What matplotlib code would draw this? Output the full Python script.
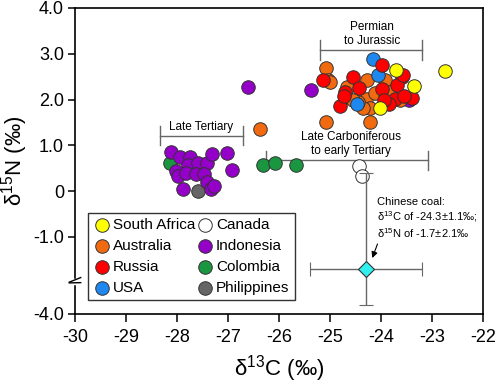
import numpy as np
import matplotlib
matplotlib.use("Agg")
import matplotlib.pyplot as plt

plt.rcParams['font.family'] = ['Liberation Sans', 'DejaVu Sans']
plt.rcParams['mathtext.default'] = 'regular'

# ---- data ----
sa_x = [-23.70, -23.35, -22.75, -24.02]
sa_y = [2.65, 2.30, 2.62, 1.82]

au_x = [-25.07, -25.03, -25.00, -25.07, -24.67, -24.69, -24.28, -24.29, -24.22,
        -24.35, -24.22, -23.92, -23.82, -23.63, -24.12, -24.45, -26.37, -24.55]
au_y = [2.68, 2.43, 2.38, 1.50, 2.28, 2.06, 2.43, 2.02, 1.81,
        1.81, 1.52, 2.43, 2.17, 1.99, 2.14, 1.95, 1.35, 2.00]

ru_x = [-25.13, -24.54, -24.71, -24.43, -24.80, -23.99, -23.59, -23.69, -23.99,
        -23.73, -23.84, -23.40, -23.56, -23.95, -23.55, -24.72]
ru_y = [2.43, 2.50, 2.17, 2.25, 1.86, 2.76, 2.50, 2.32, 2.22,
        2.01, 1.90, 2.04, 2.54, 1.98, 2.08, 2.08]

us_x = [-24.16, -24.05, -24.48]
us_y = [2.88, 2.54, 1.90]

ca_x = [-24.44, -24.38]
ca_y = [0.55, 0.34]

id_x = [-28.12, -27.94, -27.75, -27.78, -27.58, -27.42, -27.32, -27.01, -26.92,
        -28.01, -27.99, -27.82, -27.63, -27.47, -27.42, -27.88, -27.34, -27.27,
        -26.60, -25.38, -23.46]
id_y = [0.86, 0.74, 0.74, 0.57, 0.62, 0.61, 0.81, 0.83, 0.46,
        0.43, 0.32, 0.39, 0.38, 0.38, 0.19, 0.05, 0.04, 0.10,
        2.28, 2.21, 1.99]

co_x = [-28.14, -26.32, -26.08, -25.67]
co_y = [0.61, 0.57, 0.61, 0.57]

ph_x = [-27.58]
ph_y = [0.01]

cn_x, cn_y = -24.3, -1.7
cn_xerr, cn_yerr = 1.1, 2.1

x_ticks = [-30, -29, -28, -27, -26, -25, -24, -23, -22]
y_ticks = [-4, -1, 0, 1, 2, 3, 4]
y_ticklabels = ['-4.0', '-1.0', '0', '1.0', '2.0', '3.0', '4.0']

# broken y axis scale (gap between -3.4 and -2.0 compressed)
_real = [-4.0, -3.4, -2.0, 4.0]
_disp = [-2.686, -2.086, -2.0, 4.0]

def fwd(y):
    y = np.asarray(y, dtype=float)
    out = np.interp(y, _real, _disp)
    out = np.where(y < -4.0, y + 1.314, out)
    out = np.where(y > 4.0, y, out)
    return out

def inv(d):
    d = np.asarray(d, dtype=float)
    out = np.interp(d, _disp, _real)
    out = np.where(d < -2.686, d - 1.314, out)
    out = np.where(d > 4.0, d, out)
    return out

fig = plt.figure(figsize=(4.98, 3.83), dpi=100)
ax = fig.add_axes([75/498, (383-314)/383, 408/498, 306/383])
ax.set_yscale('function', functions=(fwd, inv))

ec = '#333333'
s = 95
lw = 0.7
groups = [
    (co_x, co_y, '#1a9641', 'Colombia'),
    (ph_x, ph_y, '#666666', 'Philippines'),
    (id_x, id_y, '#9400c8', 'Indonesia'),
    (ca_x, ca_y, 'white', 'Canada'),
    (au_x, au_y, '#f26a10', 'Australia'),
    (us_x, us_y, '#1e88f0', 'USA'),
    (ru_x, ru_y, '#ff0000', 'Russia'),
    (sa_x, sa_y, '#ffff00', 'South Africa'),
]
handles = {}
for gx, gy, c, lab in groups:
    h = ax.scatter(gx, gy, s=s, c=c, edgecolors=ec, linewidths=lw, label=lab, zorder=3)
    handles[lab] = h

# Chinese coal
ax.errorbar([cn_x], [cn_y], xerr=[cn_xerr], yerr=[cn_yerr], fmt='D', ms=8,
            mfc='#33f0f0', mec='#333333', mew=0.8, ecolor='#666666', elinewidth=1.0,
            capsize=5, capthick=1.0, zorder=4)

bc = '#666666'
# Late Tertiary bracket
ax.plot([-28.33, -26.71], [1.21, 1.21], color=bc, lw=1.0)
ax.plot([-28.33, -28.33], [1.00, 1.42], color=bc, lw=1.0)
ax.plot([-26.71, -26.71], [1.00, 1.42], color=bc, lw=1.0)
ax.text(-27.52, 1.40, 'Late Tertiary', ha='center', va='center', fontsize=8.5)
# Permian bracket
ax.plot([-25.20, -23.20], [3.08, 3.08], color=bc, lw=1.0)
ax.plot([-25.20, -25.20], [2.87, 3.30], color=bc, lw=1.0)
ax.plot([-23.20, -23.20], [2.87, 3.30], color=bc, lw=1.0)
ax.text(-24.18, 3.43, 'Permian\nto Jurassic', ha='center', va='center', fontsize=8.5,
        linespacing=1.15)
# Late Carboniferous bracket
ax.plot([-26.26, -23.07], [0.68, 0.68], color=bc, lw=1.0, zorder=2)
ax.plot([-26.26, -26.26], [0.46, 0.88], color=bc, lw=1.0, zorder=2)
ax.plot([-23.07, -23.07], [0.46, 0.88], color=bc, lw=1.0, zorder=2)
ax.text(-24.59, 1.03, 'Late Carboniferous\nto early Tertiary', ha='center', va='center',
        fontsize=8.5, linespacing=1.15)

ax.text(-24.07, -0.12, 'Chinese coal:\n$\\delta^{13}$C of -24.3±1.1‰;\n$\\delta^{15}$N of -1.7±2.1‰',
        ha='left', va='top', fontsize=8, linespacing=1.2)
ax.annotate('', xy=(-24.19, -1.52), xytext=(-24.05, -1.10),
            arrowprops=dict(arrowstyle='-|>', color='black', lw=0.8, mutation_scale=9))

ax.set_xlim(-30, -22)
ax.set_ylim(-4, 4)
ax.set_xticks(x_ticks)
ax.set_xticklabels([str(t) for t in x_ticks])
ax.set_yticks(y_ticks)
ax.set_yticklabels(y_ticklabels)
ax.minorticks_off()
ax.tick_params(axis='both', direction='out', labelsize=13, width=1.1, color='black')
ax.tick_params(axis='x', length=6, pad=5)
ax.tick_params(axis='y', length=5, pad=3)
for sp in ax.spines.values():
    sp.set_linewidth(1.2)

ax.set_xlabel('$\\delta^{13}$C (‰)', fontsize=16, labelpad=5)
ax.set_ylabel('$\\delta^{15}$N (‰)', fontsize=16, labelpad=2)

# break marks on y axis
yb = fwd(-2.0)
tr = ax.get_yaxis_transform()
ax.plot([0, 0], [yb - 0.06, yb + 0.06], transform=tr, color='white', lw=2.5,
        clip_on=False, zorder=5)
for dy in (-0.06, 0.06):
    ax.plot([-0.014, 0.014], [yb + dy - 0.05, yb + dy + 0.05], transform=tr,
            color='black', lw=1.0, clip_on=False, zorder=6)

order = ['South Africa', 'Australia', 'Russia', 'USA', 'Canada', 'Indonesia', 'Colombia', 'Philippines']
leg = ax.legend([handles[k] for k in order], order, ncol=2, loc='lower left',
                bbox_to_anchor=(0.031, 0.046), borderaxespad=0, fontsize=11,
                frameon=True, fancybox=False, edgecolor='#333333', framealpha=1,
                handletextpad=0.1, columnspacing=0.05, labelspacing=0.45,
                borderpad=0.35, handlelength=1.2, scatterpoints=1)
leg.get_frame().set_linewidth(1.0)

fig.savefig('out.png', dpi=100)
